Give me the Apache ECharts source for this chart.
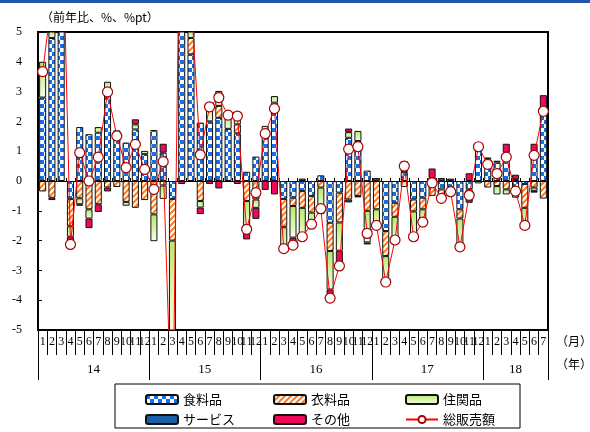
<!DOCTYPE html>
<html>
<head>
<meta charset="utf-8">
<script src="https://cdn.jsdelivr.net/npm/echarts@6/dist/echarts.min.js"></script>
<style>
  html, body { margin: 0; padding: 0; background: #fff; }
  #chart { width: 590px; height: 432px; }
</style>
</head>
<body>
<div id="chart"></div>
<script>
// 年と各年の月数（18年は7月まで）
var years = ['14', '15', '16', '17', '18'];
var monthsPerYear = [12, 12, 12, 12, 7];

// 寄与度（%pt）
var food     = [2.8, 4.8, 9.0, -0.6, 1.81, 1.57, 1.62, 3.08, 1.45, 1.29, 1.73, 0.9,
                1.71, 0.95, -0.6, 11.5, 4.25, 1.96, 2.0, 2.12, 1.75, 1.6, 0.31, 0.82,
                1.68, 2.63, -0.6, -0.56, -0.34, -0.5, 0.19, -1.4, -0.39, 1.45, 1.34, 0.35,
                0, -1.68, -0.73, 0.3, -0.62, -0.56, -0.12, -0.28, -0.2, -0.95, -0.28, 1.1,
                0.73, 0.62, 0.95, -0.28, -0.1, 0.9, 2.35];
var clothing = [-0.35, -0.56, 0, -0.92, -0.58, -0.95, -0.78, -0.22, -0.2, -0.7, -0.9, -0.64,
                -1.12, -0.15, -1.4, 1.0, 0.55, -0.67, 0, 0.4, 0, 0.3, -0.67, -0.62,
                0, 0, -0.95, -0.28, -0.56, -0.56, -0.22, -0.95, -1.0, -0.62, -0.5, -1.0,
                -0.95, -0.84, -0.47, 0, -0.4, -0.39, -0.38, -0.4, -0.1, -0.31, -0.3, 0,
                -0.22, -0.17, -0.28, -0.28, -0.8, -0.22, -0.59];
var housing  = [1.2, 1.9, 1.6, -0.35, -0.2, -0.31, 0.19, 0.25, 0.25, -0.13, 0.17, 0.11,
                -0.9, -0.45, -7.0, 1.6, 1.4, -0.22, 0.6, 0.5, 0.45, 0.35, -0.84, -0.28,
                0.17, 0.22, -0.67, -1.06, -1.06, -0.34, -0.78, -1.29, -0.95, 0.19, 0.34, -1.06,
                -0.6, -0.73, -0.76, -0.2, -0.85, -0.39, 0.1, 0, -0.12, -0.95, 0, -0.08,
                0, -0.28, -0.17, 0, -0.6, -0.11, 0];
var service  = [0, 0, 0, 0, 0, 0, 0, 0, 0, 0, 0, 0,
                0, 0, 0, 0, 0, 0, 0, 0, 0, 0, 0, 0,
                0, 0, 0, 0, 0, 0, 0, 0, 0, -0.1, -0.05, -0.07,
                0.1, -0.1, 0, 0.1, 0, 0, 0, 0.1, 0.08, 0, -0.15, 0.12,
                0.06, 0.06, 0, 0.06, 0, -0.06, 0];
var other    = [0, -0.08, 0, -0.25, -0.05, -0.32, -0.26, -0.13, 0, 0, 0.17, 0,
                0, 0.3, 0, -0.1, 0, -0.22, -0.1, -0.25, 0, -0.1, -0.45, -0.37,
                -0.3, -0.45, 0, -0.2, 0.08, 0, -0.11, -0.3, -0.5, 0.12, 0, 0,
                0, 0, 0, 0.27, 0, 0, 0.32, 0, 0, 0, 0.26, 0,
                0, 0, 0.3, 0.15, 0, 0.35, 0.53];
// 総販売額（前年比、%）
var total    = [3.67, 6.1, 10.6, -2.13, 0.95, 0.0, 0.8, 2.99, 1.51, 0.45, 1.23, 0.39,
                -0.28, 0.65, -9.0, 14.0, 6.2, 0.88, 2.49, 2.8, 2.21, 2.18, -1.62, -0.39,
                1.59, 2.43, -2.27, -2.15, -1.87, -1.45, -0.93, -3.93, -2.85, 1.07, 1.15, -1.76,
                -1.49, -3.39, -1.98, 0.5, -1.87, -1.38, -0.06, -0.58, -0.36, -2.21, -0.48, 1.15,
                0.56, 0.25, 0.8, -0.34, -1.49, 0.86, 2.34];

var categories = [];
var monthLabels = [];
var yearStart = {};
var yearMid = {};
var idx = 0;
years.forEach(function (y, k) {
  var n = monthsPerYear[k];
  yearStart[idx] = true;
  var mid = idx + (n - 1) / 2;
  yearMid[Math.floor(mid)] = { year: y, shift: mid !== Math.floor(mid) };
  for (var m = 1; m <= n; m++) {
    categories.push(y + '-' + m);
    monthLabels.push(String(m));
    idx++;
  }
});

function checker() {
  var c = document.createElement('canvas');
  c.width = 8; c.height = 8;
  var g = c.getContext('2d');
  g.fillStyle = '#ffffff'; g.fillRect(0, 0, 8, 8);
  g.fillStyle = '#1670e8';
  g.fillRect(0, 0, 4, 4); g.fillRect(4, 4, 4, 4);
  return c;
}
function hatch() {
  var c = document.createElement('canvas');
  c.width = 6; c.height = 6;
  var g = c.getContext('2d');
  g.fillStyle = '#ffffff'; g.fillRect(0, 0, 6, 6);
  g.strokeStyle = '#ff7a22'; g.lineWidth = 2;
  g.beginPath();
  g.moveTo(-1, 7); g.lineTo(7, -1);
  g.moveTo(-4, 4); g.lineTo(4, -4);
  g.moveTo(2, 10); g.lineTo(10, 2);
  g.stroke();
  return c;
}

var serif = 'Liberation Serif';
var jp = 'Noto Sans CJK JP';

function nz(arr) { return arr.map(function (v) { return v === 0 ? '-' : v; }); }

var barBase = { type: 'bar', stack: 'c', barWidth: '76%', xAxisIndex: 0 };
function bar(name, data, color) {
  return Object.assign({}, barBase, {
    name: name, data: nz(data),
    itemStyle: { color: color, borderColor: '#111', borderWidth: 1 }
  });
}

var chart = echarts.init(document.getElementById('chart'), null, { renderer: 'canvas' });
chart.setOption({
  animation: false,
  title: {
    text: '（前年比、%、%pt）', left: 36, top: 6,
    textStyle: { fontSize: 12, fontWeight: 'normal', fontFamily: jp, color: '#000' }
  },
  grid: {
    left: 38, right: 42, top: 32, bottom: 102,
    show: true, borderColor: '#000', borderWidth: 2, backgroundColor: 'transparent'
  },
  xAxis: [
    {
      type: 'category', data: categories, position: 'bottom',
      axisLine: { onZero: false, lineStyle: { color: '#000', width: 2 } },
      axisTick: { show: true, interval: 0, length: 25, lineStyle: { color: '#000', width: 1 } },
      axisLabel: {
        interval: 0, margin: 6, fontSize: 12, fontFamily: serif, color: '#000',
        formatter: function (v, i) { return monthLabels[i]; }
      }
    },
    {
      type: 'category', data: categories, position: 'top',
      axisLine: { onZero: true, lineStyle: { color: '#000', width: 1 } },
      axisTick: { show: true, interval: 0, length: 3, lineStyle: { color: '#000', width: 1 } },
      axisLabel: { show: false }
    },
    {
      type: 'category', data: categories, position: 'bottom',
      axisLine: { show: false, onZero: false },
      axisTick: {
        show: true, length: 50, lineStyle: { color: '#000', width: 1 },
        interval: function (i) { return !!yearStart[i]; }
      },
      axisLabel: {
        margin: 33, color: '#000',
        interval: function (i) { return !!yearMid[i]; },
        formatter: function (v, i) {
          var ym = yearMid[i];
          if (!ym) return '';
          return ym.shift ? '{s|' + ym.year + '}' : '{c|' + ym.year + '}';
        },
        rich: {
          s: { fontSize: 13, fontFamily: serif, color: '#000', padding: [0, 0, 0, 9] },
          c: { fontSize: 13, fontFamily: serif, color: '#000' }
        }
      }
    }
  ],
  yAxis: {
    type: 'value', min: -5, max: 5, interval: 1,
    axisLine: { show: true, lineStyle: { color: '#000', width: 2 } },
    axisTick: { show: true, inside: true, length: 4, lineStyle: { color: '#000' } },
    axisLabel: { margin: 16, fontSize: 12, fontFamily: serif, color: '#000' },
    splitLine: { show: false }
  },
  legend: [
    {
      data: ['食料品', 'サービス'], left: 140, top: 388, orient: 'vertical',
      itemWidth: 32, itemHeight: 9, itemGap: 7,
      textStyle: { fontSize: 13, fontFamily: jp, color: '#000' }
    },
    {
      data: ['衣料品', 'その他'], left: 268, top: 388, orient: 'vertical',
      itemWidth: 32, itemHeight: 9, itemGap: 7,
      textStyle: { fontSize: 13, fontFamily: jp, color: '#000' }
    },
    {
      data: ['住関品', '総販売額'], left: 400, top: 388, orient: 'vertical',
      itemWidth: 32, itemHeight: 9, itemGap: 7,
      textStyle: { fontSize: 13, fontFamily: jp, color: '#000' }
    }
  ],
  graphic: [
    { type: 'rect', shape: { x: 0, y: 0, width: 590, height: 3 }, style: { fill: '#1f56a8' } },
    { type: 'rect', shape: { x: 115, y: 384, width: 405, height: 44 },
      style: { fill: 'none', stroke: '#000', lineWidth: 1 } },
    { type: 'text', left: 556, top: 335, style: { text: '（月）', font: '12px "Noto Sans CJK JP"', fill: '#000' } },
    { type: 'text', left: 556, top: 358, style: { text: '（年）', font: '12px "Noto Sans CJK JP"', fill: '#000' } }
  ],
  series: [
    bar('食料品', food, { image: checker(), repeat: 'repeat' }),
    bar('衣料品', clothing, { image: hatch(), repeat: 'repeat' }),
    bar('住関品', housing, {
      type: 'linear', x: 0, y: 0, x2: 0, y2: 1,
      colorStops: [{ offset: 0, color: '#b6e868' }, { offset: 1, color: '#f6ffe6' }]
    }),
    bar('サービス', service, '#1a5ea8'),
    bar('その他', other, '#f2085a'),
    {
      name: '総販売額', type: 'line', data: total, xAxisIndex: 0, z: 10,
      symbol: 'circle', symbolSize: 10,
      lineStyle: { color: '#ff0000', width: 1 },
      itemStyle: { color: '#ffffff', borderColor: '#a80000', borderWidth: 1.2 }
    }
  ]
});
</script>
</body>
</html>
